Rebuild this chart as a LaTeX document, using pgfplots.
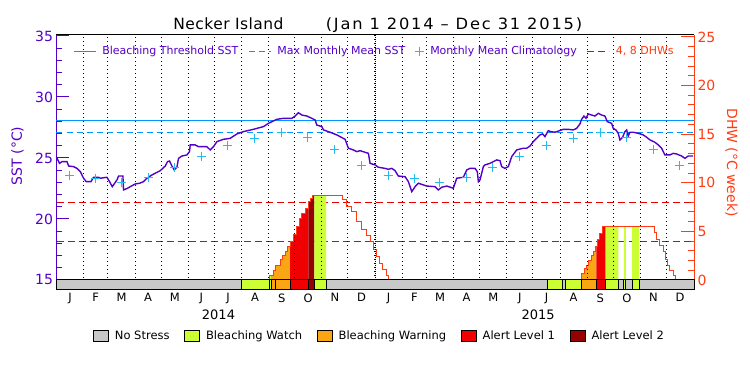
\documentclass[border=0pt]{standalone}
\usepackage{pgfplots}
\usepackage{graphicx}
\pgfplotsset{compat=1.18}
\usepackage{fontspec}
\setmainfont{DejaVu Sans}
\definecolor{sstpurple}{RGB}{85,0,200}
\definecolor{threshblue}{RGB}{0,150,255}
\definecolor{climcyan}{RGB}{30,190,240}
\definecolor{dhworange}{RGB}{255,60,20}
\definecolor{dhwred}{RGB}{235,0,0}
\definecolor{nostress}{RGB}{200,200,200}
\definecolor{watch}{RGB}{204,255,51}
\definecolor{warning}{RGB}{250,165,20}
\definecolor{alertone}{RGB}{240,0,0}
\definecolor{alerttwo}{RGB}{150,0,0}
\newcommand{\fs}[1]{\fontsize{#1}{#1}\selectfont}
\newcommand{\seg}[3]{\addplot[fill=#3, draw=black, line width=1pt, forget plot] coordinates {(#1,14.18) (#2,14.18) (#2,15) (#1,15)} -- cycle;}
\pgfplotsset{
  longline/.style={legend image code/.code={\draw[##1] (0pt,0pt) -- (22pt,0pt);}},
  crossimg/.style={legend image code/.code={\draw[##1] plot coordinates {(5pt,0pt)};}},
}
\begin{document}
\begin{tikzpicture}
\useasboundingbox (0,0) rectangle (750pt,375pt);
% ---------------- DHW axis (right) ----------------
\begin{axis}[
  at={(56.5pt,85pt)}, anchor=south west,
  width=637.5pt, height=255pt, scale only axis,
  xmin=0, xmax=730.5, ymin=-1.03, ymax=25.2,
  axis x line*=top, axis y line*=right,
  xtick=\empty,
  ytick={0,5,10,15,20,25}, minor y tick num=4,
  tick align=inside,
  major tick length=13pt, minor tick length=6.5pt,
  tick style={dhworange, line width=1pt},
  x axis line style={black, line width=1pt},
  y axis line style={dhworange, line width=1pt},
  yticklabel style={text=dhworange, font=\fs{14}},
  /pgf/number format/assume math mode=true,
  legend image code/.code={\draw[#1] (0pt,-5.5pt) rectangle (15pt,5.5pt);},
  legend style={at={(0.5065,-0.179)}, anchor=center, draw=none, fill=none,
     legend columns=5, font=\fs{11.5},
     /tikz/every odd column/.append style={column sep=4pt},
     /tikz/every even column/.append style={column sep=12.5pt}},
]
\addplot[dhwred, line width=1pt, dash pattern=on 7pt off 4pt, forget plot] coordinates {(0,4) (730.5,4)};
\addplot[dhwred, line width=1pt, dash pattern=on 7pt off 4pt, forget plot] coordinates {(0,8) (730.5,8)};
% fills under DHW (2014)
\addplot[const plot, fill=watch, draw=none, forget plot] coordinates {(243.7,0) (243.7,0.45) (246.0,0)} -- cycle;
\addplot[const plot, fill=warning, draw=none, forget plot] coordinates {(246.0,0) (246.0,0.45) (248.6,0.96) (251.4,1.54) (256.3,2.06) (258.9,2.57) (262.0,2.98) (264.6,3.43) (267.7,0)} -- cycle;
\addplot[const plot, fill=alertone, draw=none, forget plot] coordinates {(267.7,0) (267.7,3.94) (271.5,4.63) (274.6,5.49) (278.0,6.34) (281.1,6.86) (284.9,7.37) (288.7,0)} -- cycle;
\addplot[const plot, fill=alerttwo, draw=none, forget plot] coordinates {(288.7,0) (288.7,8.06) (290.6,8.4) (293.7,8.74) (295.6,0)} -- cycle;
\addplot[const plot, fill=watch, draw=none, forget plot] coordinates {(295.6,0) (295.6,8.74) (309.0,0)} -- cycle;
% fills under DHW (2015)
\addplot[const plot, fill=warning, draw=none, forget plot] coordinates {(601.7,0) (601.7,0.69) (604.7,1.2) (607.5,1.54) (610.1,1.99) (613.2,2.47) (615.0,2.98) (617.8,3.43) (618.5,0)} -- cycle;
\addplot[const plot, fill=alertone, draw=none, forget plot] coordinates {(618.5,0) (618.5,3.43) (620.1,4.18) (622.7,4.8) (625.3,5.49) (629.2,0)} -- cycle;
\addplot[const plot, fill=watch, draw=none, forget plot] coordinates {(629.2,0) (629.2,5.49) (643.7,0)} -- cycle;
\addplot[const plot, fill=watch, draw=none, forget plot] coordinates {(650.2,0) (650.2,5.49) (652.5,0)} -- cycle;
\addplot[const plot, fill=watch, draw=none, forget plot] coordinates {(659.7,0) (659.7,5.49) (667.7,0)} -- cycle;
% DHW curves
\addplot[const plot, dhworange, line width=1pt, forget plot] coordinates {
(243.7,0) (243.7,0.45) (248.6,0.96) (251.4,1.54) (256.3,2.06) (258.9,2.57) (262.0,2.98) (264.6,3.43)
(267.7,3.94) (271.5,4.63) (274.6,5.49) (278.0,6.34) (281.1,6.86) (284.9,7.37) (288.7,8.06) (290.6,8.4)
(293.7,8.74) (328.1,8.23) (332.6,7.61) (338.4,7.03) (344.1,6.0) (349.8,5.21) (354.8,4.53) (360.1,3.94)
(363.1,3.09) (366.2,2.40) (370.0,1.72) (373.9,1.1) (377.7,0.5) (380.7,0)};
\addplot[const plot, dhworange, line width=1pt, forget plot] coordinates {
(601.7,0) (601.7,0.69) (604.7,1.2) (607.5,1.54) (610.1,1.99) (613.2,2.47) (615.0,2.98) (617.8,3.43)
(620.1,4.18) (622.7,4.8) (625.3,5.49) (684.9,4.87) (687.6,4.12) (691.4,3.53) (695.2,2.91) (697.9,2.06)
(700.2,1.44) (702.9,0.96) (706.6,0.5) (708.9,0)};
% bottom legend
\addlegendimage{fill=nostress, draw=black, line width=1pt}
\addlegendentry{No Stress}
\addlegendimage{fill=watch, draw=black, line width=1pt}
\addlegendentry{Bleaching Watch}
\addlegendimage{fill=warning, draw=black, line width=1pt}
\addlegendentry{Bleaching Warning}
\addlegendimage{fill=alertone, draw=black, line width=1pt}
\addlegendentry{Alert Level 1}
\addlegendimage{fill=alerttwo, draw=black, line width=1pt}
\addlegendentry{Alert Level 2}
\end{axis}
% ---------------- SST axis (left) ----------------
\begin{axis}[
  at={(56.5pt,85pt)}, anchor=south west,
  width=637.5pt, height=255pt, scale only axis,
  xmin=0, xmax=730.5, ymin=14.18, ymax=35.08,
  axis x line*=bottom, axis y line*=left,
  clip=false,
  xtick={15.5,45,74.5,105,135.5,166,196.5,227.5,258,288.5,319,349.5,380.5,410,439.5,470,500.5,531,561.5,592.5,623,653.5,684,714.5},
  xticklabels={J,F,M,A,M,J,J,A,S,O,N,D,J,F,M,A,M,J,J,A,S,O,N,D},
  minor xtick={31,59,90,120,151,181,212,243,273,304,334,365,396,424,455,485,516,546,577,608,638,669,699},
  xminorgrids=true,
  minor x grid style={black, line width=1pt, dash pattern=on 1pt off 3pt},
  ytick={15,20,25,30,35}, minor y tick num=4,
  tick align=inside, major tick length=13pt, minor tick length=6pt,
  tick style={sstpurple, line width=1pt},
  major x tick style={draw=none}, minor x tick style={draw=none},
  x axis line style={black, line width=1pt},
  y axis line style={sstpurple, line width=1pt},
  yticklabel style={text=sstpurple, font=\fs{14}},
  xticklabel style={font=\fs{11.5}},
  /pgf/number format/assume math mode=true,
  legend style={at={(0.4988,0.937)}, anchor=center, draw=none, fill=none,
     legend columns=4, font=\fs{11},
     /tikz/every odd column/.append style={column sep=4pt},
     /tikz/every even column/.append style={column sep=8pt}},
]
% alert strip
\seg{0}{212.0}{nostress}
\seg{212.0}{243.7}{watch}
\seg{243.7}{246.0}{watch}
\seg{246.0}{251.4}{warning}
\seg{251.4}{267.7}{warning}
\seg{267.7}{288.7}{alertone}
\seg{288.7}{295.6}{alerttwo}
\seg{295.6}{309.0}{watch}
\seg{309.0}{562.4}{nostress}
\seg{562.4}{579.5}{watch}
\seg{579.5}{583.4}{nostress}
\seg{583.4}{601.7}{watch}
\seg{601.7}{618.5}{warning}
\seg{618.5}{629.2}{alertone}
\seg{629.2}{643.7}{watch}
\seg{643.7}{650.2}{nostress}
\seg{650.2}{652.5}{watch}
\seg{652.5}{659.7}{nostress}
\seg{659.7}{667.7}{watch}
\seg{667.7}{730.5}{nostress}
\addplot[black, line width=1.7pt, dash pattern=on 1pt off 3pt, forget plot] coordinates {(365,15) (365,35.08)};
% thresholds
\addplot[threshblue, line width=1pt, longline] coordinates {(0,28.05) (730.5,28.05)};
\addlegendentry[text=sstpurple]{Bleaching Threshold SST}
\addplot[threshblue, line width=1pt, dash pattern=on 6pt off 4pt, longline] coordinates {(0,27.05) (730.5,27.05)};
\addlegendentry[text=sstpurple]{Max Monthly Mean SST}
\addplot[only marks, mark=+, mark size=4.5pt, climcyan, line width=1pt, crossimg] coordinates {
(15,23.55) (45,23.3) (74,22.97) (105,23.36) (135,24.22) (166,25.16) (196,26.0) (227,26.56)
(258,27.08) (288,26.67) (319,25.71) (349,24.35)
(380,23.55) (410,23.3) (439,22.97) (470,23.36) (500,24.22) (531,25.16) (561,26.0) (592,26.56)
(623,27.08) (653,26.67) (684,25.71) (714,24.35)};
\addlegendentry[text=sstpurple]{Monthly Mean Climatology}
\addlegendimage{dhwred, line width=1pt, dash pattern=on 7pt off 4pt, longline}
\addlegendentry[text=dhworange]{4, 8 DHWs}
% SST
\addplot[sstpurple, line width=1.4pt, forget plot] coordinates {
(0,25.06) (3.5,24.56) (6.3,24.70) (12.0,24.70) (13.9,24.34) (19.6,24.29) (23.5,24.15) (27.3,23.88)
(31.0,23.34) (34.1,23.06) (39.5,23.06) (42.5,23.42) (48.2,23.42) (50.2,23.34) (57.8,23.42) (60.8,23.06)
(63.9,22.65) (69.3,23.20) (71.1,23.52) (76.1,23.52) (76.8,22.38) (81.4,22.52) (84.5,22.65) (90.2,22.87)
(95.2,22.93) (99.7,23.06) (103.6,23.34) (109.4,23.61) (113.1,23.75) (118.9,23.96) (124.6,24.34) (127.2,24.70)
(129.5,24.75) (132.3,24.34) (134.9,24.02) (138.0,24.24) (139.8,24.97) (143.7,25.16) (149.4,25.25) (152.4,25.52)
(153.2,26.07) (158.9,26.07) (162.7,25.93) (172.3,25.93) (176.1,25.66) (179.9,25.93) (183.8,26.34) (191.3,26.53)
(199.0,26.61) (206.7,26.97) (214.2,27.16) (225.7,27.35) (237.1,27.57) (242.9,27.84) (252.5,28.17) (260.0,28.25)
(269.7,28.25) (273.4,28.44) (277.2,28.71) (281.1,28.52) (286.8,28.44) (292.6,28.25) (296.4,28.11) (298.3,27.70)
(304.0,27.57) (305.9,27.30) (313.5,27.11) (321.2,26.89) (330.7,26.53) (334.5,25.80) (340.2,25.66) (344.1,25.52)
(347.9,25.60) (357.4,25.38) (359.3,24.56) (365.1,24.43) (368.8,24.24) (376.5,24.15) (380.3,24.07) (384.2,24.15)
(388.0,23.96) (391.7,23.52) (399.4,23.47) (403.2,23.06) (407.1,22.24) (410.9,22.65) (414.6,22.93) (420.4,22.79)
(424.3,22.70) (433.8,22.65) (437.5,22.38) (441.4,22.60) (447.2,22.70) (454.7,22.52) (458.6,23.34) (466.2,23.42)
(470.1,24.02) (473.8,24.15) (479.6,24.15) (482.2,23.88) (483.4,23.06) (485.3,23.20) (489.1,24.29) (491.0,24.43)
(496.7,24.56) (500.5,24.70) (504.4,24.84) (508.2,24.78) (510.1,24.29) (513.9,24.15) (517.7,24.29) (521.6,25.11)
(527.3,25.66) (534.9,25.80) (538.8,25.80) (542.6,25.98) (546.3,26.34) (550.2,26.61) (554.0,26.89) (557.1,26.97)
(559.7,26.75) (563.5,27.24) (566.3,27.16) (571.2,27.11) (580.7,27.35) (586.4,27.35) (592.1,27.30) (596.0,27.43)
(599.8,27.79) (601.7,28.17) (604.4,28.44) (606.7,28.25) (609.3,28.61) (613.2,28.52) (617.0,28.44) (620.8,28.66)
(624.6,28.52) (628.4,28.44) (631.1,27.98) (636.1,27.84) (637.9,27.43) (641.0,27.30) (643.7,27.02) (645.6,26.48)
(648.7,26.70) (651.3,27.16) (653.3,27.30) (655.1,26.80) (657.1,27.11) (660.8,27.11) (666.6,27.02) (672.3,26.89)
(676.2,26.70) (680.0,26.48) (685.7,26.29) (689.5,26.07) (693.4,25.80) (697.1,25.25) (702.9,25.25) (706.6,25.38)
(710.5,25.33) (716.3,25.16) (720.1,24.97) (723.8,25.16) (729.5,25.16)};
\end{axis}
% titles and labels
\node[anchor=base, font=\fs{15.5}] at (228.5pt,345.7pt) {\addfontfeature{LetterSpace=3}Necker Island};
\node[anchor=base, font=\fs{15.5}] at (454pt,345.7pt) {\scalebox{1.05}[1]{\addfontfeature{LetterSpace=11}(Jan 1 2014 – Dec 31 2015)}};
\node[rotate=90, text=sstpurple, font=\fs{14}] at (17.5pt,219.2pt) {SST (°C)};
\node[rotate=-90, text=dhworange, font=\fs{14}] at (731.5pt,212.5pt) {DHW (°C week)};
\node[font=\fs{13}] at (218.5pt,60pt) {2014};
\node[font=\fs{13}] at (538.2pt,60pt) {2015};
\end{tikzpicture}
\end{document}
